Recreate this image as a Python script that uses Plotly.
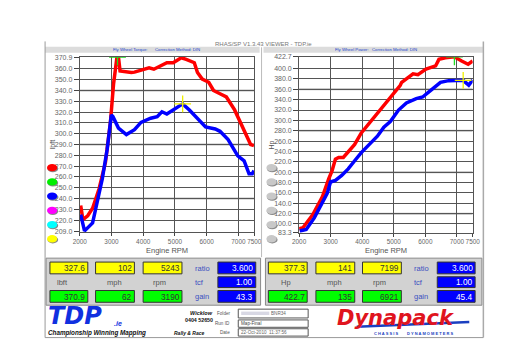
import plotly.graph_objects as go

W, H = 512, 362
def px(x): return x / W
def py(y): return 1 - y / H

FONT = "Liberation Sans"

# ---------------- data ----------------
rpm_ticks = [2000, 3000, 4000, 5000, 6000, 7000, 7500]
torque_ticks = [209.0, 220, 230, 240, 250, 260, 270, 280, 290, 300, 310, 320,
                330, 340, 350, 360, 370.9]
torque_major_grid = [240, 290, 340]
power_ticks = [83.3, 100, 120, 140, 160, 180, 200, 220, 240, 260, 280, 300,
               320, 340, 360, 380, 400, 422.7]
power_major_grid = [120, 200, 280, 360]

torque_red_rpm = [2030, 2100, 2250, 2405, 2610, 2810, 2965, 3065, 3170, 3220, 3270,
                  3470, 3625, 3725, 3930, 4185, 4335, 4540, 4745, 4945, 5050, 5200,
                  5355, 5610, 5710, 5860, 6065, 6215, 6420, 6620, 6880, 7080, 7280,
                  7385, 7490]
torque_red = [233.5, 220.4, 224.0, 231.0, 249.0, 273.5, 310.0, 346.0, 370.3, 370.9,
              358.0, 357.0, 356.7, 357.0, 358.5, 361.0, 359.7, 362.7, 365.7, 365.7,
              367.3, 370.3, 368.8, 365.7, 356.7, 350.6, 347.6, 340.0, 337.0, 334.0,
              322.0, 310.0, 297.6, 290.0, 289.0]

torque_blue_rpm = [2030, 2150, 2405, 2560, 2710, 2865, 2935, 2995, 3045, 3220, 3470,
                   3725, 3930, 4235, 4440, 4590, 4745, 4945, 5243, 5455, 5710, 5965,
                   6270, 6420, 6675, 6980, 7180, 7335, 7435, 7490]
torque_blue = [225.0, 210.0, 217.4, 237.0, 258.0, 285.6, 300.7, 317.3, 315.8, 305.2,
               299.2, 303.7, 310.5, 314.3, 315.8, 320.3, 318.2, 321.9, 327.6, 321.9,
               314.3, 306.2, 304.4, 302.2, 294.6, 279.5, 274.9, 262.8, 262.8, 265.8]

power_red_rpm = [2000, 2120, 2430, 2740, 2940, 3045, 3150, 3250, 3400, 3610, 3760,
                 3970, 4225, 4430, 4685, 4995, 5200, 5250, 5610, 5765, 6020, 6325,
                 6430, 6635, 6921, 7150, 7355, 7500]
power_red = [90.9, 92.7, 117.9, 152.7, 187.4, 203.1, 225.3, 228.5, 228.5, 244.2,
             253.7, 275.8, 294.7, 310.4, 330.0, 351.5, 367.2, 373.5, 390.0, 388.1,
             398.9, 405.1, 417.8, 420.8, 422.7, 414.6, 408.3, 414.6]

power_blue_rpm = [2020, 2225, 2480, 2740, 2890, 2995, 3150, 3350, 3555, 3760, 3970,
                  4225, 4480, 4685, 4890, 5150, 5400, 5710, 5915, 6170, 6480, 6740,
                  7045, 7199, 7375, 7500]
power_blue = [86.5, 89.5, 111.7, 140.1, 159.0, 181.1, 184.2, 193.6, 206.3, 222.1,
              237.9, 253.7, 269.4, 287.0, 297.8, 319.9, 333.7, 342.0, 345.1, 357.8,
              373.5, 376.7, 376.0, 377.3, 368.0, 378.0]

# readouts: [value, mph, rpm]
left_yellow_readout = [327.6, 102, 5243]
left_green_readout = [370.9, 62, 3190]
left_settings = [3.600, 1.00, 43.3]      # ratio, tcf, gain
right_yellow_readout = [377.3, 141, 7199]
right_green_readout = [422.7, 135, 6921]
right_settings = [3.600, 1.00, 45.4]
readout_fmt = ["{:.1f}", "{:.0f}", "{:.0f}"]
settings_fmt = ["{:.3f}", "{:.2f}", "{:.1f}"]
settings_labels = ["ratio", "tcf", "gain"]

legend_colors = ["#ff0000", "#00ee00", "#0000ff", "#ff00ff", "#00ffff", "#ffff00"]

# ---------------- figure ----------------
fig = go.Figure()

def line_trace(x, y, color, xa, ya):
    fig.add_trace(go.Scatter(x=x, y=y, mode="lines", xaxis=xa, yaxis=ya,
                             line=dict(color=color, width=3.5), hoverinfo="skip",
                             showlegend=False))

line_trace(torque_red_rpm, torque_red, "#ff0000", "x", "y")
line_trace(torque_blue_rpm, torque_blue, "#0000ff", "x", "y")
line_trace(power_red_rpm, power_red, "#ff0000", "x2", "y2")
line_trace(power_blue_rpm, power_blue, "#0000ff", "x2", "y2")

def cursor(rpm, val, color, xa, ya):
    fig.add_trace(go.Scatter(x=[rpm], y=[val], mode="markers", xaxis=xa, yaxis=ya,
                             marker=dict(symbol="cross-thin", size=12,
                                         line=dict(color=color, width=1.3)),
                             hoverinfo="skip", showlegend=False, cliponaxis=True))

cursor(left_green_readout[2], left_green_readout[0], "#22dd22", "x", "y")
cursor(left_yellow_readout[2], left_yellow_readout[0], "#eeee00", "x", "y")
cursor(right_green_readout[2], right_green_readout[0], "#22dd22", "x2", "y2")
cursor(right_yellow_readout[2], right_yellow_readout[0], "#eeee00", "x2", "y2")

tickfont = dict(family=FONT, size=7, color="#666666")
xtickfont = dict(family=FONT, size=6.4, color="#666666")

def xaxis_cfg(x0, x1, anchor):
    return dict(domain=[px(x0), px(x1)], range=[2000, 7500], anchor=anchor,
                tickvals=rpm_ticks, ticktext=[str(v) for v in rpm_ticks],
                tickangle=0,
                ticks="outside", ticklen=3, tickcolor="#444", tickfont=xtickfont,
                showgrid=True, gridcolor="#555555", gridwidth=1,
                showline=True, linecolor="#555555", mirror=True, zeroline=False,
                fixedrange=True)

def yaxis_cfg(y0, y1, rng, ticks, anchor):
    return dict(domain=[py(y1), py(y0)], range=rng, anchor=anchor,
                tickvals=ticks, ticktext=["{:.1f}".format(v) for v in ticks],
                ticks="outside", ticklen=5, tickcolor="#444", tickfont=tickfont,
                showgrid=True, gridcolor="#555555", gridwidth=1,
                showline=True, linecolor="#555555", mirror=True, zeroline=False,
                fixedrange=True)

shapes = []
annotations = []

def rect(x0, y0, x1, y1, fill, line="#888888", lw=1, layer="below"):
    shapes.append(dict(type="rect", xref="paper", yref="paper",
                       x0=px(x0), x1=px(x1), y0=py(y1), y1=py(y0),
                       fillcolor=fill, line=dict(color=line, width=lw), layer=layer))

def hline(x0, x1, y, color, w=1):
    shapes.append(dict(type="line", xref="paper", yref="paper", x0=px(x0), x1=px(x1),
                       y0=py(y), y1=py(y), line=dict(color=color, width=w)))

def vline(x, y0, y1, color, w=1):
    shapes.append(dict(type="line", xref="paper", yref="paper", x0=px(x), x1=px(x),
                       y0=py(y0), y1=py(y1), line=dict(color=color, width=w)))

def text(x, y, s, size=7, color="#333", xanchor="center", weight="normal",
         style="normal", family=FONT, angle=0):
    annotations.append(dict(x=px(x), y=py(y), xref="paper", yref="paper", text=s,
                            showarrow=False, xanchor=xanchor, yanchor="middle",
                            textangle=angle, borderpad=0,
                            font=dict(family=family, size=size, color=color,
                                      weight=weight, style=style)))

# major grid lines (lighter, thicker)
for v in torque_major_grid:
    shapes.append(dict(type="line", xref="x", yref="y", x0=2000, x1=7500, y0=v, y1=v,
                       line=dict(color="#bbbbbb", width=2), layer="below"))
for v in power_major_grid:
    shapes.append(dict(type="line", xref="x2", yref="y2", x0=2000, x1=7500, y0=v, y1=v,
                       line=dict(color="#bbbbbb", width=2), layer="below"))

# outer frame
vline(31, 30, 332, "#999999")
vline(482.5, 30, 332, "#aaaaaa", 1.5)
hline(31, 482.5, 332, "#999999")
# header bars
rect(31, 35.5, 252, 41.5, "#dcdcdc", "#dcdcdc", 0)
rect(256, 35.5, 482, 41.5, "#dcdcdc", "#dcdcdc", 0)
vline(254, 36, 250, "#bbbbbb")
text(256, 33, "RHAS/SP V1.3.43 VIEWER - TDP.ie", size=6, color="#777777")
text(100, 38.6, "Fly Wheel Torque:", size=4.3, color="#2244cc", xanchor="left")
text(143, 38.6, "Correction Method: DIN", size=4.3, color="#2244cc", xanchor="left")
text(329, 38.6, "Fly Wheel Power:", size=4.3, color="#2244cc", xanchor="left")
text(367, 38.6, "Correction Method: DIN", size=4.3, color="#2244cc", xanchor="left")

# legend ellipses
leg_y = [159, 173.5, 188, 202.5, 217, 231.5]
for c, yy in zip(legend_colors, leg_y):
    shapes.append(dict(type="circle", xref="paper", yref="paper",
                       x0=px(33.5), x1=px(44.5), y0=py(yy + 4.5), y1=py(yy - 3),
                       fillcolor="#888888", line=dict(width=0)))
    shapes.append(dict(type="circle", xref="paper", yref="paper",
                       x0=px(33), x1=px(43.5), y0=py(yy + 3.5), y1=py(yy - 4),
                       fillcolor=c, line=dict(width=0)))
    shapes.append(dict(type="circle", xref="paper", yref="paper",
                       x0=px(259.5), x1=px(270.5), y0=py(yy + 4.5), y1=py(yy - 3),
                       fillcolor="#888888", line=dict(width=0)))
    shapes.append(dict(type="circle", xref="paper", yref="paper",
                       x0=px(259), x1=px(269.5), y0=py(yy + 3.5), y1=py(yy - 4),
                       fillcolor="#c8c8c8", line=dict(width=0)))

# axis titles
text(39, 135, "lbft", size=7, color="#555555", angle=-90)
text(265, 136, "Hp", size=7, color="#555555", angle=-90)
text(157, 243.5, "Engine RPM", size=7.5, color="#555555")
text(382.5, 243.5, "Engine RPM", size=7.5, color="#555555")

# readout panels
def panel(x0, x1, cols, lab_x, blue_x, yellow, green, settings, unit, unit_centers):
    rect(x0, 251, x1, 299, "#d2d2d2", "#8a8a8a", 1)
    rows = [(255, 267), (270, 281), (284, 296)]
    for i, (c0, c1) in enumerate(cols):
        rect(c0, rows[0][0], c1, rows[0][1], "#ffff00", "#333333", 1)
        text(c1 - 1.5, 261.3, readout_fmt[i].format(yellow[i]), size=8.3,
             color="#333333", xanchor="right")
        rect(c0, rows[2][0], c1, rows[2][1], "#00ff00", "#333333", 1)
        text(c1 - 1.5, 290.3, readout_fmt[i].format(green[i]), size=8.3,
             color="#333333", xanchor="right")
    for s, cx in zip([unit, "mph", "rpm"], unit_centers):
        text(cx, 275.8, s, size=7.5, color="#555555")
    for j, (r0, r1) in enumerate(rows):
        rect(blue_x[0], r0, blue_x[1], r1, "#0000ff", "#333333", 1)
        text(blue_x[1] - 1.5, (r0 + r1) / 2 + 0.3, settings_fmt[j].format(settings[j]),
             size=8.3, color="#ffffff", xanchor="right")
        text(lab_x, (r0 + r1) / 2 + 0.3, settings_labels[j], size=7.5,
             color="#3a4fc0", xanchor="left")

panel(32, 253, [(36, 75), (83, 123), (132, 172)], 184, (209, 248),
      left_yellow_readout, left_green_readout, left_settings, "lbft", [49, 102, 149])
panel(258, 481, [(261, 301), (310, 350), (358, 398)], 410, (435, 474),
      right_yellow_readout, right_green_readout, right_settings, "Hp", [279, 329, 375])

# footer
text(33, 310.5, "TDP", size=24, color="#1030e0", xanchor="left", weight="bold",
     style="italic", family="DejaVu Sans")
text(101, 317.5, ".ie", size=7, color="#1030e0", xanchor="left", weight="bold",
     style="italic")
text(33, 327.5, "Championship Winning Mapping", size=6.3, color="#111111",
     xanchor="left", weight="bold", style="italic")
text(163, 327.5, "Rally & Race", size=5, color="#111111", xanchor="left",
     weight="bold", style="italic")
text(205, 306.8, "Wicklow", size=5.5, color="#111111", xanchor="right",
     weight="bold", style="italic")
text(205, 314, "0404 52650", size=5.3, color="#111111", xanchor="right",
     weight="bold")
for lab, yy in [("Folder", 307.5), ("Run ID", 317.8), ("Date", 326.6)]:
    text(223, yy, lab, size=4.6, color="#555555", xanchor="right")
rect(230, 303, 302, 312, "#ffffff", "#555555", 1)
rect(230, 314, 302, 321.5, "#ffffff", "#555555", 1)
rect(230, 323, 302, 330.5, "#ffffff", "#555555", 1)
rect(233, 305.5, 262, 309, "#d8d8e4", "#d8d8e4", 0)
text(263, 307.5, "BNR34", size=4.6, color="#666666", xanchor="left")
text(232, 317.8, "Map-Final", size=4.6, color="#444444", xanchor="left")
text(232, 326.8, "22-Oct-2010  11:37:56", size=4.6, color="#666666", xanchor="left")

# Dynapack logo
shapes.append(dict(type="path", xref="paper", yref="paper",
                   path="M {} {} Q {} {} {} {}".format(px(352), py(321), px(400), py(319),
                                                       px(468), py(316)),
                   line=dict(color="#1a3fc0", width=2.5)))
text(392, 312, "Dynapack", size=21, color="#e0141e", weight="bold", style="italic",
     family="DejaVu Sans")
text(411, 327.8, "C H A S S I S        D Y N A M O M E T E R S", size=4,
     color="#1a3fc0", weight="bold")

fig.update_layout(
    width=W, height=H, autosize=False,
    margin=dict(l=0, r=0, t=0, b=0),
    paper_bgcolor="#ffffff", plot_bgcolor="#ffffff",
    showlegend=False,
    xaxis=xaxis_cfg(66.7, 246.5, "y"),
    yaxis=yaxis_cfg(46, 224.3, [209.0, 370.9], torque_ticks, "x"),
    xaxis2=xaxis_cfg(292.7, 471.5, "y2"),
    yaxis2=yaxis_cfg(45.7, 225, [83.3, 422.7], power_ticks, "x2"),
    shapes=shapes, annotations=annotations,
)

fig.write_html("out.html", config={"displayModeBar": False})
